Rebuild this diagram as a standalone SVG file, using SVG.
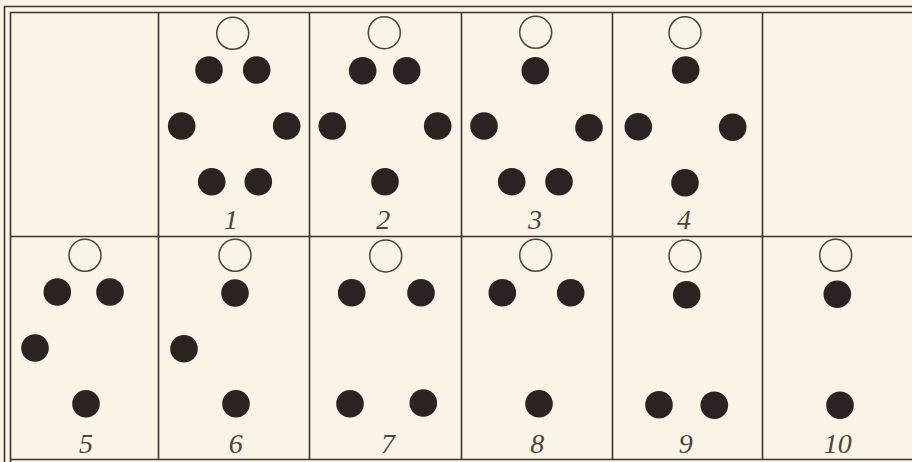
<svg xmlns="http://www.w3.org/2000/svg" width="912" height="462" viewBox="0 0 912 462">
<style>
.bg{fill:#faf4e6}
.ln{stroke:#3b3431;stroke-width:1.6;fill:none}
.ring{fill:none;stroke:#4a423e;stroke-width:1.5}
.dot{fill:#2b2321}
.lbl{font-family:"Liberation Serif","DejaVu Serif",serif;font-style:italic;font-size:28px;fill:#4d4541;text-anchor:middle}
</style>
<defs>
<circle id="o" r="16" class="ring"/>
<circle id="d" r="13.8" class="dot"/>
</defs>
<rect class="bg" x="0" y="0" width="912" height="462"/>
<g id="grid">
<path class="ln" d="M4.5,462 V6.5 H912"/>
<path class="ln" d="M10.5,462 V12.5 H912"/>
<path class="ln" d="M10.5,459.5 H912"/>
<path class="ln" d="M10.5,236.5 H912"/>
<path class="ln" d="M158.5,12.5 V459.5 M309.5,12.5 V459.5 M461.5,12.5 V459.5 M612.5,12.5 V459.5 M762.5,12.5 V459.5"/>
</g>
<g id="cell-1">
<use href="#o" x="232.7" y="33.3"/>
<use href="#d" x="209" y="70"/><use href="#d" x="256.7" y="70"/>
<use href="#d" x="181.7" y="126"/><use href="#d" x="286.7" y="126"/>
<use href="#d" x="211.7" y="181.7"/><use href="#d" x="258.3" y="181.7"/>
<text class="lbl" x="231" y="229">1</text>
</g>
<g id="cell-2">
<use href="#o" x="384.3" y="32.7"/>
<use href="#d" x="362.7" y="70.7"/><use href="#d" x="406.7" y="70.7"/>
<use href="#d" x="332.3" y="126"/><use href="#d" x="437.7" y="126"/>
<use href="#d" x="385" y="181.7"/>
<text class="lbl" x="383.3" y="229">2</text>
</g>
<g id="cell-3">
<use href="#o" x="535.7" y="32.3"/>
<use href="#d" x="535.3" y="70.7"/>
<use href="#d" x="484" y="126"/><use href="#d" x="589" y="127.7"/>
<use href="#d" x="511.7" y="181.7"/><use href="#d" x="559" y="181.7"/>
<text class="lbl" x="535" y="229">3</text>
</g>
<g id="cell-4">
<use href="#o" x="685" y="32.7"/>
<use href="#d" x="685.7" y="70"/>
<use href="#d" x="638.3" y="126.7"/><use href="#d" x="732.7" y="127.3"/>
<use href="#d" x="685" y="182.7"/>
<text class="lbl" x="684" y="229">4</text>
</g>
<g id="cell-5">
<use href="#o" x="85" y="255.3"/>
<use href="#d" x="57.3" y="292"/><use href="#d" x="110" y="292"/>
<use href="#d" x="35" y="348"/>
<use href="#d" x="86" y="403.7"/>
<text class="lbl" x="86" y="453">5</text>
</g>
<g id="cell-6">
<use href="#o" x="235" y="255.3"/>
<use href="#d" x="235" y="293"/>
<use href="#d" x="184" y="348.7"/>
<use href="#d" x="236" y="403.7"/>
<text class="lbl" x="235.7" y="453">6</text>
</g>
<g id="cell-7">
<use href="#o" x="385.7" y="256"/>
<use href="#d" x="351.7" y="292.7"/><use href="#d" x="421" y="292.7"/>
<use href="#d" x="350" y="403.7"/><use href="#d" x="423.3" y="403"/>
<text class="lbl" x="388" y="453">7</text>
</g>
<g id="cell-8">
<use href="#o" x="535.7" y="255.3"/>
<use href="#d" x="502.3" y="292.7"/><use href="#d" x="570.7" y="292.7"/>
<use href="#d" x="539" y="403.7"/>
<text class="lbl" x="537.3" y="453">8</text>
</g>
<g id="cell-9">
<use href="#o" x="685" y="256"/>
<use href="#d" x="686.7" y="294.7"/>
<use href="#d" x="659" y="404.7"/><use href="#d" x="714.3" y="405.3"/>
<text class="lbl" x="685.7" y="453">9</text>
</g>
<g id="cell-10">
<use href="#o" x="835.7" y="255.3"/>
<use href="#d" x="837.3" y="294.3"/>
<use href="#d" x="840" y="405.3"/>
<text class="lbl" x="837.7" y="453">10</text>
</g>
</svg>
